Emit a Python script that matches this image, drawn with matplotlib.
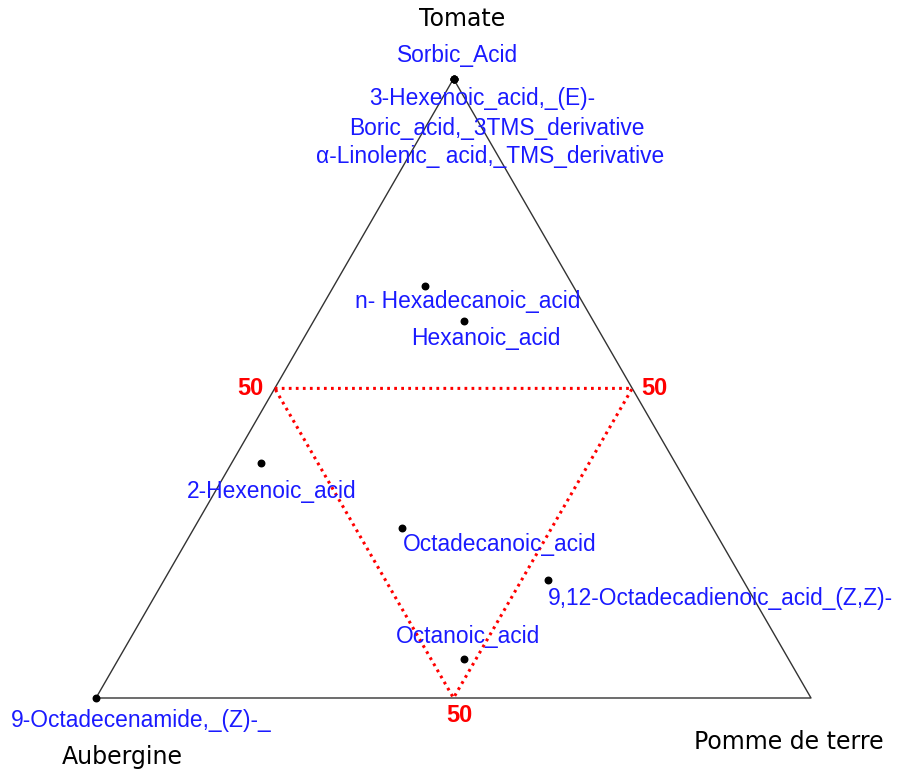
import numpy as np
import matplotlib.pyplot as plt

# compound composition (%) : Tomate / Aubergine / Pomme de terre
compounds = ['Sorbic_Acid', '3-Hexenoic_acid,_(E)-', 'Boric_acid,_3TMS_derivative',
             'α-Linolenic_ acid,_TMS_derivative', 'n- Hexadecanoic_acid', 'Hexanoic_acid',
             '2-Hexenoic_acid', 'Octadecanoic_acid', '9,12-Octadecadienoic_acid_(Z,Z)-',
             'Octanoic_acid', '9-Octadecenamide,_(Z)-_']
tomate = [100, 100, 100, 100, 66.6, 60.9, 37.9, 27.4, 19.0, 6.3, 0]
aubergine = [0, 0, 0, 0, 20.7, 18.1, 58.0, 43.5, 27.3, 45.4, 100]
pomme = [0, 0, 0, 0, 12.7, 21.0, 4.1, 29.1, 53.7, 48.3, 0]

# label offsets in pixels (dx right, dy down) from each point
label_dx = [4, 29, 43, 37, 43, 22, 11, 98, 173, 4, 45]
label_dy = [-23, 20, 50, 78, 16, 18, 28, 16, 18, -22, 22]

vertex_names = ['Tomate', 'Aubergine', 'Pomme de terre']


def to_xy(t, a, p):
    t = np.asarray(t, dtype=float)
    a = np.asarray(a, dtype=float)
    p = np.asarray(p, dtype=float)
    s = t + a + p
    x = p / s + 0.5 * t / s
    y = np.sqrt(3) / 2 * t / s
    return x, y


px = 715.0  # pixels per unit
fig = plt.figure(figsize=(8.99, 7.74), dpi=100)
ax = fig.add_axes([0, 0, 1, 1])
ax.set_xlim(-96 / px, (899 - 96) / px)
ax.set_ylim(-(774 - 698) / px, 698 / px)
ax.axis('off')

# outer triangle
vx, vy = to_xy([1, 0, 0, 1], [0, 1, 0, 0], [0, 0, 1, 0])
ax.plot(vx, vy, color='#333333', lw=1.0, zorder=1)

# 50% inner triangle
mx, my = to_xy([0.5, 0.5, 0, 0.5], [0.5, 0, 0.5, 0.5], [0, 0.5, 0.5, 0])
ax.plot(mx, my, color='red', lw=2.2, linestyle=(0, (0.9, 1.4)), zorder=2)
red_kw = dict(color='red', fontsize=17, fontweight='bold', family='Liberation Sans', va='center')
ax.annotate('50', (mx[0], my[0]), xytext=(-24 * 0.72, 0), textcoords='offset points',
            ha='center', **red_kw)
ax.annotate('50', (mx[1], my[1]), xytext=(22 * 0.72, 0), textcoords='offset points',
            ha='center', **red_kw)
ax.annotate('50', (mx[2], my[2]), xytext=(6 * 0.72, -18 * 0.72), textcoords='offset points',
            ha='center', **red_kw)

# points and labels
x, y = to_xy(tomate, aubergine, pomme)
ax.scatter(x, y, s=22, color='black', zorder=3)
for i, name in enumerate(compounds):
    ax.annotate(name, (x[i], y[i]), xytext=(label_dx[i] * 0.72, -label_dy[i] * 0.72),
                textcoords='offset points', ha='center', va='center',
                color='#1a1aff', fontsize=16.4, family='Liberation Sans')

# vertex names
ax.annotate(vertex_names[0], (vx[0], vy[0]), xytext=(9 * 0.72, 60 * 0.72),
            textcoords='offset points', ha='center', va='center', fontsize=17)
ax.annotate(vertex_names[1], (vx[1], vy[1]), xytext=(26 * 0.72, -59 * 0.72),
            textcoords='offset points', ha='center', va='center', fontsize=17)
ax.annotate(vertex_names[2], (vx[2], vy[2]), xytext=(-22 * 0.72, -44 * 0.72),
            textcoords='offset points', ha='center', va='center', fontsize=17)

fig.savefig('out.png', dpi=100)
